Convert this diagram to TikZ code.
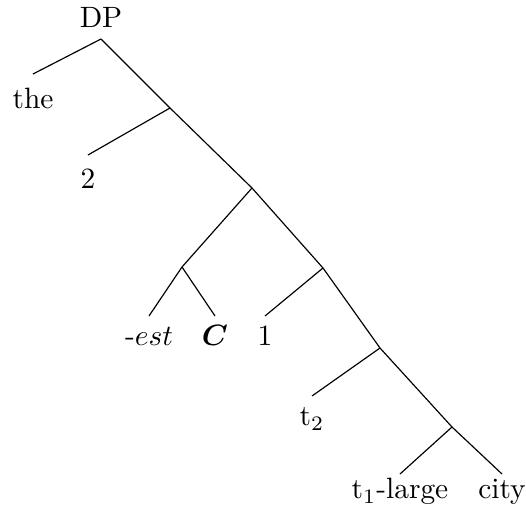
\documentclass[tikz,border=0pt]{standalone}
\usepackage{bm}
\begin{document}
\begin{tikzpicture}[x=0.34pt,y=-0.34pt,
  leaf/.style={anchor=north,inner xsep=0pt,inner ysep=3pt,text height=1.6ex,text depth=0.25ex},
  rootlabel/.style={anchor=south,inner xsep=0pt,inner ysep=3.7pt,text depth=0pt},
  branch/.style={line width=0.4pt}]
\useasboundingbox (0,0) rectangle (526,518);
% root label
\node[rootlabel] (dp) at (101,39) {DP};
% internal points
\coordinate (n1) at (101,39);
\coordinate (n2) at (170,108);
\coordinate (n3) at (252,188);
\coordinate (n4) at (182,267);
\coordinate (n5) at (323,268);
\coordinate (n6) at (380,348);
\coordinate (n7) at (452,427);
% leaves
\node[leaf,inner ysep=4.7pt] (the) at (33,74) {the};
\node[leaf,inner ysep=4.3pt] (two) at (88,155) {2};
\node[leaf] (est) at (149,316) {-$est$};
\node[leaf] (C) at (215,316) {$\bm{C}$};
\node[leaf] (one) at (265,316) {1};
\node[leaf] (t2) at (312,396) {t$_2$};
\node[leaf,inner ysep=1.4pt] (t1) at (400,474) {t$_1$-large};
\node[leaf,inner ysep=1.4pt] (city) at (502,474) {city};
% branches
\draw[branch] (n1) -- (the.north);
\draw[branch] (n1) -- (n2);
\draw[branch] (n2) -- (two.north);
\draw[branch] (n2) -- (n3);
\draw[branch] (n3) -- (n4);
\draw[branch] (n3) -- (n5);
\draw[branch] (n4) -- (est.north);
\draw[branch] (n4) -- (C.north);
\draw[branch] (n5) -- (one.north);
\draw[branch] (n5) -- (n6);
\draw[branch] (n6) -- (t2.north);
\draw[branch] (n6) -- (n7);
\draw[branch] (n7) -- (t1.north);
\draw[branch] (n7) -- (city.north);
\end{tikzpicture}
\end{document}
